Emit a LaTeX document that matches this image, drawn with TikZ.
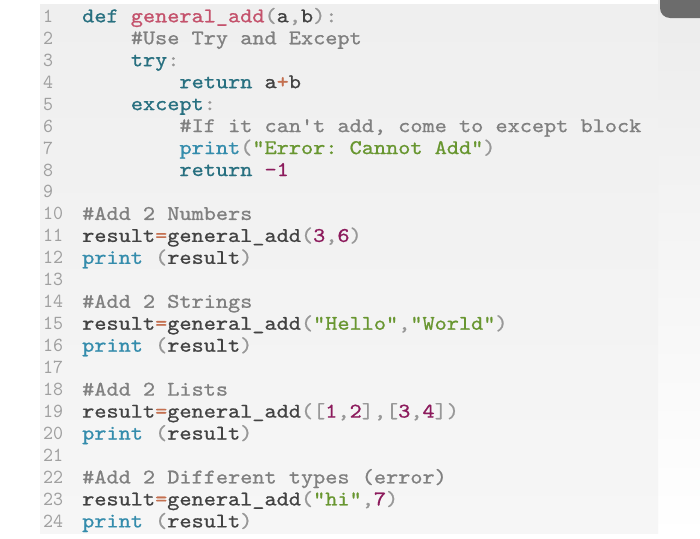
\documentclass[tikz,border=0pt]{standalone}
\usepackage{fontspec}
\newfontfamily\codefont{lmmono10-regular.otf}[FakeBold=0.8]
\newfontfamily\numfont{lmmono10-regular.otf}
\definecolor{kwcol}{RGB}{40,112,128}
\definecolor{prcol}{RGB}{52,140,172}
\definecolor{fncol}{RGB}{196,82,108}
\definecolor{cmcol}{RGB}{128,128,128}
\definecolor{stcol}{RGB}{104,150,48}
\definecolor{nucol}{RGB}{140,26,92}
\definecolor{opcol}{RGB}{196,112,80}
\definecolor{pucol}{RGB}{152,152,152}
\definecolor{txcol}{RGB}{66,66,66}
\definecolor{lncol}{RGB}{160,160,160}
\definecolor{paneltop}{RGB}{239,239,239}
\definecolor{panelbot}{RGB}{246,246,246}
\definecolor{striptop}{RGB}{236,236,236}
\definecolor{tabcol}{RGB}{108,108,108}
\newcommand{\ckw}[1]{\textcolor{kwcol}{#1}}
\newcommand{\cpr}[1]{\textcolor{prcol}{#1}}
\newcommand{\cfn}[1]{\textcolor{fncol}{#1}}
\newcommand{\ccm}[1]{\textcolor{cmcol}{#1}}
\newcommand{\cst}[1]{\textcolor{stcol}{#1}}
\newcommand{\cnu}[1]{\textcolor{nucol}{#1}}
\newcommand{\cop}[1]{\textcolor{opcol}{#1}}
\newcommand{\cpu}[1]{\textcolor{pucol}{#1}}
\newcommand{\ctx}[1]{\textcolor{txcol}{#1}}
\newcommand{\codeln}[1]{\scalebox{1}[0.9]{#1}}
\tikzset{
  codeline/.style={anchor=base west, inner sep=0pt, text=txcol,
    font=\codefont\fontsize{23.15}{26}\selectfont\frenchspacing},
  lnum/.style={anchor=base west, inner sep=0pt, text=lncol,
    font=\numfont\fontsize{19}{22}\selectfont}
}
\begin{document}
\begin{tikzpicture}[x=1pt,y=-1pt]
\useasboundingbox (0,0) rectangle (700,538);
\fill[white] (0,0) rectangle (700,538);
\shade[top color=striptop, bottom color=white] (658,0) rectangle (700,538);
\shade[top color=paneltop, bottom color=panelbot] (40,4) rectangle (658,533);
\fill[tabcol, rounded corners=10pt] (660,-12) rectangle (712,18);
% line numbers
\foreach \k in {1,...,24}{
  \node[lnum] (n\k) at (43,{22.3+(\k-1)*21.96}) {\scalebox{1}[1.05]{\k}};
}
% code
\node[codeline] (l1)  at (82,22.3)      {\codeln{\ckw{def} \cfn{general\_add}\cpu{(}a\cpu{,}b\cpu{):}}};
\node[codeline] (l2)  at (130.64,44.26) {\codeln{\ccm{\#Use Try and Except}}};
\node[codeline] (l3)  at (130.64,66.22) {\codeln{\ckw{try}\cpu{:}}};
\node[codeline] (l4)  at (179.28,88.18) {\codeln{\ckw{return} a\cop{+}b}};
\node[codeline] (l5)  at (130.64,110.14){\codeln{\ckw{except}\cpu{:}}};
\node[codeline] (l6)  at (179.28,132.1) {\codeln{\ccm{\#If it can\textquotesingle t add, come to except block}}};
\node[codeline] (l7)  at (179.28,154.06){\codeln{\cpr{print}\cpu{(}\cst{"Error: Cannot Add"}\cpu{)}}};
\node[codeline] (l8)  at (179.28,176.02){\codeln{\ckw{return} \cnu{-1}}};
\node[codeline] (l10) at (82,219.94)    {\codeln{\ccm{\#Add 2 Numbers}}};
\node[codeline] (l11) at (82,241.9)     {\codeln{result\cop{=}general\_add\cpu{(}\cnu{3}\cpu{,}\cnu{6}\cpu{)}}};
\node[codeline] (l12) at (82,263.86)    {\codeln{\cpr{print} \cpu{(}result\cpu{)}}};
\node[codeline] (l14) at (82,307.78)    {\codeln{\ccm{\#Add 2 Strings}}};
\node[codeline] (l15) at (82,329.74)    {\codeln{result\cop{=}general\_add\cpu{(}\cst{"Hello"}\cpu{,}\cst{"World"}\cpu{)}}};
\node[codeline] (l16) at (82,351.7)     {\codeln{\cpr{print} \cpu{(}result\cpu{)}}};
\node[codeline] (l18) at (82,395.62)    {\codeln{\ccm{\#Add 2 Lists}}};
\node[codeline] (l19) at (82,417.58)    {\codeln{result\cop{=}general\_add\cpu{([}\cnu{1}\cpu{,}\cnu{2}\cpu{],[}\cnu{3}\cpu{,}\cnu{4}\cpu{])}}};
\node[codeline] (l20) at (82,439.54)    {\codeln{\cpr{print} \cpu{(}result\cpu{)}}};
\node[codeline] (l22) at (82,483.46)    {\codeln{\ccm{\#Add 2 Different types (error)}}};
\node[codeline] (l23) at (82,505.42)    {\codeln{result\cop{=}general\_add\cpu{(}\cst{"hi"}\cpu{,}\cnu{7}\cpu{)}}};
\node[codeline] (l24) at (82,527.38)    {\codeln{\cpr{print} \cpu{(}result\cpu{)}}};
\end{tikzpicture}
\end{document}
